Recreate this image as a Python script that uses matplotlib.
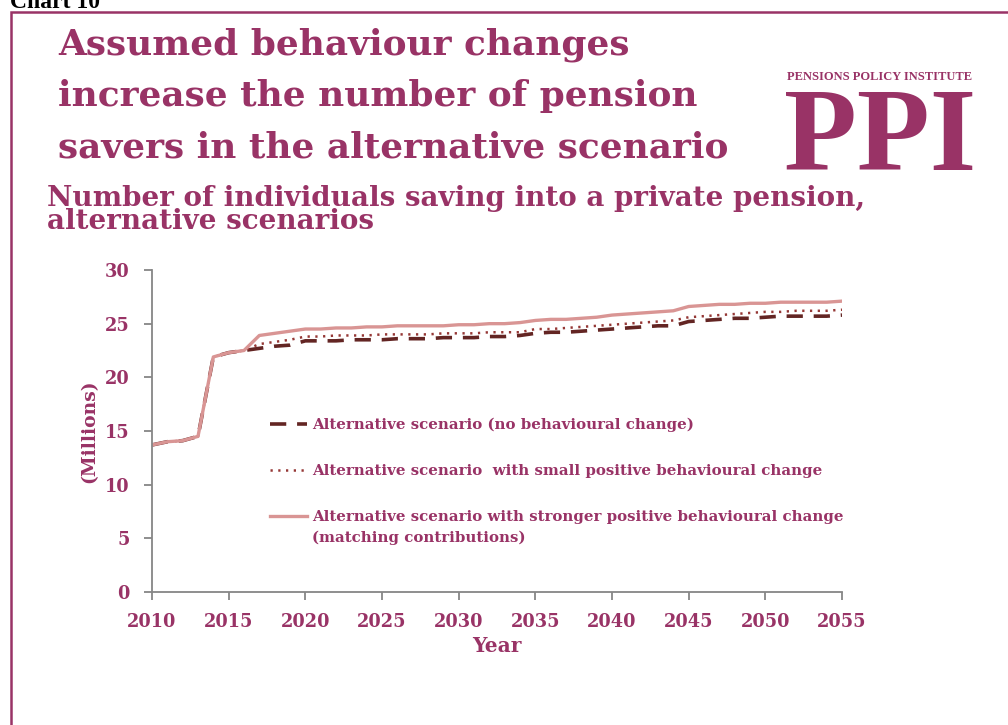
import matplotlib
matplotlib.use("Agg")
import matplotlib.pyplot as plt
from matplotlib.patches import Rectangle

years = list(range(2010, 2056))

# Millions of individuals saving into a private pension
no_change = [13.7, 14.0, 14.1, 14.5, 21.9, 22.3, 22.5, 22.7, 22.9, 23.0,
             23.4, 23.4, 23.4, 23.5, 23.5, 23.5, 23.6, 23.6, 23.6, 23.7,
             23.7, 23.7, 23.8, 23.8, 23.9, 24.1, 24.2, 24.2, 24.3, 24.4,
             24.5, 24.6, 24.7, 24.8, 24.8, 25.2, 25.3, 25.4, 25.5, 25.5,
             25.6, 25.7, 25.7, 25.7, 25.7, 25.8]
small_change = [13.7, 14.0, 14.1, 14.5, 21.9, 22.3, 22.5, 23.1, 23.3, 23.5,
                23.8, 23.8, 23.9, 23.9, 23.9, 24.0, 24.0, 24.0, 24.0, 24.1,
                24.1, 24.1, 24.2, 24.2, 24.2, 24.5, 24.5, 24.6, 24.7, 24.8,
                24.9, 25.0, 25.1, 25.2, 25.3, 25.6, 25.7, 25.8, 25.9, 26.0,
                26.1, 26.1, 26.2, 26.2, 26.2, 26.3]
strong_change = [13.7, 14.0, 14.1, 14.5, 21.9, 22.3, 22.5, 23.9, 24.1, 24.3,
                 24.5, 24.5, 24.6, 24.6, 24.7, 24.7, 24.8, 24.8, 24.8, 24.8,
                 24.9, 24.9, 25.0, 25.0, 25.1, 25.3, 25.4, 25.4, 25.5, 25.6,
                 25.8, 25.9, 26.0, 26.1, 26.2, 26.6, 26.7, 26.8, 26.8, 26.9,
                 26.9, 27.0, 27.0, 27.0, 27.0, 27.1]

labels = ["Alternative scenario (no behavioural change)",
          "Alternative scenario  with small positive behavioural change",
          "Alternative scenario with stronger positive behavioural change"]
label_extra = "(matching contributions)"

PURPLE = "#993366"
SERIF = ["DejaVu Serif"]
TIMES = ["Liberation Serif", "DejaVu Serif"]
W, H = 1008, 725


def fx(x):
    return x / W


def fy(y):
    return 1 - y / H


fig = plt.figure(figsize=(10.08, 7.25), dpi=100)
fig.patch.set_facecolor("white")

# frame around the chart
fig.patches.append(Rectangle((fx(11), fy(800)), 1.2, fy(12) - fy(800),
                             transform=fig.transFigure, fill=False,
                             edgecolor=PURPLE, linewidth=1.8))
fig.text(fx(10), fy(8), "Chart 10", family=TIMES, fontweight="bold",
         fontsize=17, color="black", va="baseline")

# headline
for txt, base in [("Assumed behaviour changes", 55),
                  ("increase the number of pension", 106),
                  ("savers in the alternative scenario", 157)]:
    fig.text(fx(58), fy(base), txt, family=SERIF, fontweight="bold",
             fontsize=25.8, color=PURPLE, va="baseline")

fig.text(fx(47), fy(206), "Number of individuals saving into a private pension,",
         family=SERIF, fontweight="bold", fontsize=20, color=PURPLE, va="baseline")
fig.text(fx(47), fy(229), "alternative scenarios",
         family=SERIF, fontweight="bold", fontsize=20, color=PURPLE, va="baseline")

# PPI logo
fig.text(fx(880), fy(80), "PENSIONS POLICY INSTITUTE", family=TIMES,
         fontweight="bold", fontsize=9, color=PURPLE, ha="center", va="baseline")
fig.text(fx(880), fy(170), "PPI", family=TIMES, fontweight="bold",
         fontsize=86, color=PURPLE, ha="center", va="baseline")

ax = fig.add_axes([fx(152), fy(592), fx(842) - fx(152), fy(270) - fy(592)])
ax.plot(years, no_change, color="#632523", linewidth=2.6, dashes=(4.5, 3),
        label=labels[0])
ax.plot(years, small_change, color="#953735", linewidth=1.8, dashes=(0.9, 2.2),
        label=labels[1])
ax.plot(years, strong_change, color="#D99594", linewidth=2.4,
        label=labels[2])

ax.set_xlim(2010, 2055)
ax.set_ylim(0, 30)
ax.set_xticks(range(2010, 2056, 5))
ax.set_yticks(range(0, 31, 5))

for side in ["top", "right"]:
    ax.spines[side].set_visible(False)
for side in ["left", "bottom"]:
    ax.spines[side].set_color("#868686")
    ax.spines[side].set_linewidth(1.3)
ax.tick_params(axis="both", colors="#868686", width=1.3, length=6,
               labelcolor=PURPLE, labelsize=12.8)
ax.tick_params(axis="x", pad=9)
ax.tick_params(axis="y", pad=10)
for lab in ax.get_xticklabels() + ax.get_yticklabels():
    lab.set_family(SERIF)
    lab.set_fontweight("bold")

ax.set_xlabel("Year", family=SERIF, fontweight="bold", fontsize=14.5,
              color=PURPLE, labelpad=4)
ax.set_ylabel("(Millions)", family=SERIF, fontweight="bold", fontsize=13.5,
              color=PURPLE, labelpad=5)

leg = ax.legend(loc="upper left", bbox_to_anchor=((270 - 152) / 690, (592 - 418) / 322),
                frameon=False, borderpad=0, borderaxespad=0, handlelength=2.45,
                handletextpad=0.35, labelspacing=2.12,
                prop={"family": SERIF, "weight": "bold", "size": 10.8})
for t in leg.get_texts():
    t.set_color(PURPLE)
fig.text(fx(312), fy(538), label_extra, family=SERIF, fontweight="bold",
         fontsize=10.8, color=PURPLE, va="center")

fig.savefig("out.png", dpi=100, facecolor="white")
